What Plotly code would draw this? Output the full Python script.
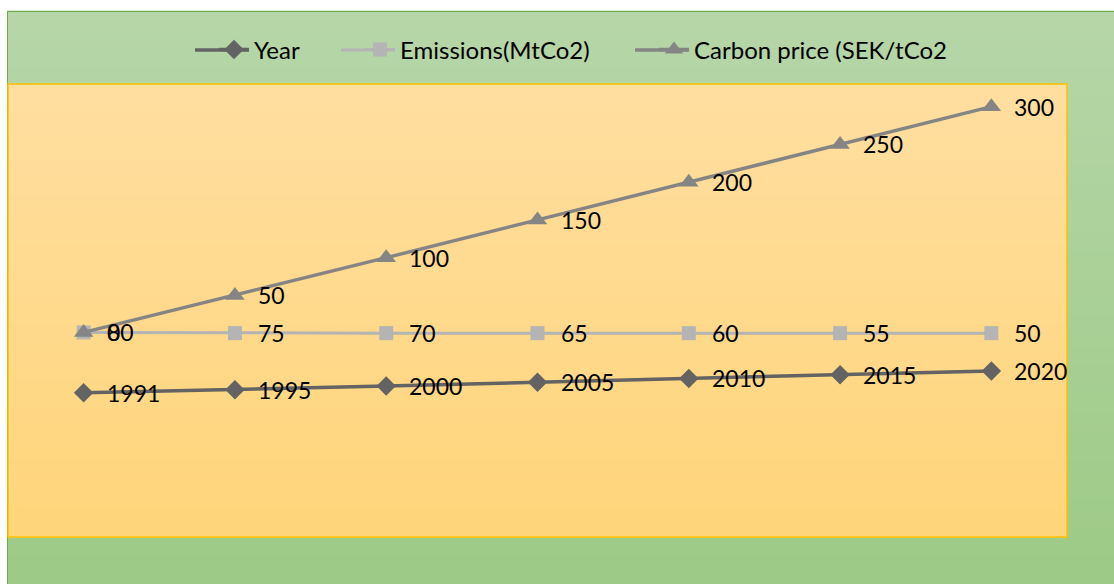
import numpy as np
import plotly.graph_objects as go

categories = ["1", "2", "3", "4", "5", "6", "7"]
year = [1991, 1995, 2000, 2005, 2010, 2015, 2020]
emissions = [80, 75, 70, 65, 60, 55, 50]
carbon_price = [0, 50, 100, 150, 200, 250, 300]
series_names = ["Year", "Emissions(MtCo2)", "Carbon price (SEK/tCo2"]

W, H = 1114, 584
L, R, T, B = 8, 1067, 84, 537  # plot area pixel box
FONT = "Lato, 'Liberation Sans', sans-serif"

def px_x(px):
    return (px - L) / (R - L)

def px_y(py):
    return (B - py) / (B - T)

# stacked line chart (as in the original spreadsheet chart)
s1 = np.array(year, dtype=float)
s2 = s1 + np.array(emissions)
s3 = s2 + np.array(carbon_price)

fig = go.Figure()
styles = [
    dict(color="#636363", width=3.5, symbol="diamond", size=15),
    dict(color="#b4b4b4", width=3, symbol="square", size=14),
    dict(color="#858585", width=3.5, symbol="triangle-up", size=17),
]
legend_ids = ["legend", "legend2", "legend3"]
legend_text_x = [254, 400, 694]
for name, ys, st, lg in zip(series_names, [s1, s2, s3], styles, legend_ids):
    fig.add_trace(go.Scatter(
        x=categories, y=ys, name=name, mode="lines+markers",
        line=dict(color=st["color"], width=st["width"]),
        marker=dict(symbol=st["symbol"], size=st["size"], color=st["color"]),
        hoverinfo="skip", legend=lg,
    ))

annotations = []
for vals, ys in [(year, s1), (emissions, s2), (carbon_price, s3)]:
    for i, (v, y) in enumerate(zip(vals, ys)):
        annotations.append(dict(
            x=i, y=y, xref="x", yref="y", text=str(v), showarrow=False,
            xanchor="left", yanchor="middle", xshift=21,
            font=dict(family=FONT, size=23, color="#000000"),
        ))

shapes = []
def gradient(x0, x1, y0, y1, c_top, c_bot, n=60):
    for i in range(n):
        t = i / (n - 1)
        col = tuple(int(round(c_top[k] + (c_bot[k] - c_top[k]) * t)) for k in range(3))
        ya = y0 + (y1 - y0) * i / n
        yb = y0 + (y1 - y0) * (i + 1) / n
        shapes.append(dict(
            type="rect", xref="paper", yref="paper",
            x0=px_x(x0), x1=px_x(x1), y0=px_y(ya - 0.5), y1=px_y(yb + 0.5),
            fillcolor="rgb(%d,%d,%d)" % col, line=dict(width=0), layer="below",
        ))

# chart area (green) and plot area (orange)
gradient(7, W + 2, 11, H + 2, (182, 214, 168), (157, 202, 134))
shapes.append(dict(type="rect", xref="paper", yref="paper",
                   x0=px_x(7.5), x1=px_x(W + 5), y0=px_y(11.5), y1=px_y(H + 5),
                   line=dict(color="#70ad47", width=1), fillcolor="rgba(0,0,0,0)", layer="below"))
gradient(L, R, T, B, (255, 222, 160), (255, 213, 122))
shapes.append(dict(type="rect", xref="paper", yref="paper",
                   x0=0, x1=1, y0=0, y1=1,
                   line=dict(color="#ffc000", width=1.5), fillcolor="rgba(0,0,0,0)", layer="below"))

# longer legend key lines, like the spreadsheet legend
for st, tx in zip(styles, legend_text_x):
    shapes.append(dict(type="line", xref="paper", yref="paper",
                       x0=px_x(tx - 59), x1=px_x(tx - 5), y0=px_y(50), y1=px_y(50),
                       line=dict(color=st["color"], width=st["width"]), layer="above"))

layout_legends = {}
for lg, tx in zip(legend_ids, legend_text_x):
    layout_legends[lg] = dict(
        orientation="h", x=px_x(tx - 40), xanchor="left", y=px_y(50), yanchor="middle",
        bgcolor="rgba(0,0,0,0)", font=dict(family=FONT, size=24, color="#000000"),
    )

fig.update_layout(
    width=W, height=H,
    margin=dict(l=L, r=W - R, t=T, b=H - B, pad=0),
    paper_bgcolor="#ffffff", plot_bgcolor="rgba(0,0,0,0)",
    font=dict(family=FONT, size=23, color="#000000"),
    xaxis=dict(type="category", range=[-0.5, 6.5], visible=False, showgrid=False, zeroline=False),
    yaxis=dict(range=[1800, 2400], visible=False, showgrid=False, zeroline=False),
    showlegend=True,
    shapes=shapes, annotations=annotations,
    **layout_legends,
)

fig.write_html("out.html")
